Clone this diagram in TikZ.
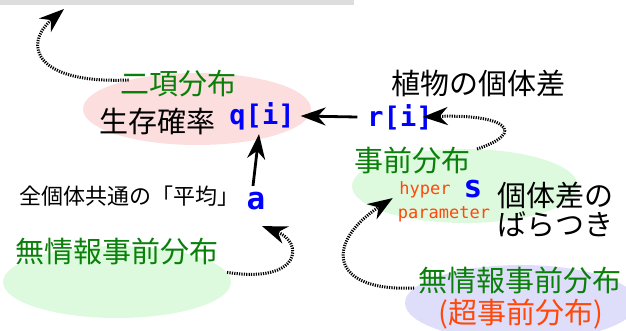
\documentclass[tikz,border=0pt]{standalone}
\usepackage{fontspec}
\newfontfamily\jp{Noto Sans CJK JP}
\newfontfamily\mono{DejaVu Sans Mono}
\usetikzlibrary{shapes.geometric,arrows.meta}
\definecolor{jgreen}{RGB}{10,128,10}
\definecolor{jorange}{RGB}{255,72,10}
\definecolor{jblue}{RGB}{0,0,255}
\definecolor{epink}{RGB}{252,222,222}
\definecolor{egreen}{RGB}{222,250,222}
\definecolor{elav}{RGB}{222,222,250}
\definecolor{bargray}{RGB}{221,221,221}
\tikzset{
  ell/.style={ellipse, inner sep=0pt},
  big/.style={inner sep=0pt, font=\jp\fontsize{29}{31}\selectfont},
  mid/.style={inner sep=0pt, font=\jp\fontsize{22}{24}\selectfont},
  var/.style={inner sep=0pt, text=jblue, font=\mono\bfseries\fontsize{27}{29}\selectfont},
  varb/.style={inner sep=0pt, text=jblue, font=\mono\bfseries\fontsize{31}{33}\selectfont},
  hyp/.style={inner sep=0pt, text=jorange, font=\mono\fontsize{17}{19}\selectfont},
  arr/.style={line width=2.8pt, -{Stealth[length=25pt,width=18pt,inset=8pt]}},
  darr/.style={line width=3pt, dash pattern=on 1.2pt off 1.2pt, -{Stealth[length=25pt,width=18pt,inset=8pt]}}
}
\begin{document}
\begin{tikzpicture}[x=1pt,y=-1pt]
\useasboundingbox (0,0) rectangle (626,331);
\fill[bargray] (0,0) rectangle (354,5);
% ellipses
\node[ell, fill=epink, minimum width=228pt, minimum height=72pt] (pink) at (197,109) {};
\node[ell, fill=egreen, minimum width=226pt, minimum height=74pt] (gr) at (465,186) {};
\node[ell, fill=egreen, minimum width=228pt, minimum height=72pt] (gl) at (117,282) {};
\node[ell, fill=elav, minimum width=232pt, minimum height=76pt] (lav) at (521,303) {};
% texts
\node[big, text=jgreen] (binom) at (178,84) {二項分布};
\node[big] (surv) at (157,122) {生存確率};
\node[var] (q) at (262,116) {q[i]};
\node[big] (ind) at (478,83) {植物の個体差};
\node[var] (r) at (400,117) {r[i]};
\node[big, text=jgreen] (prior) at (412,160) {事前分布};
\node[hyp] (hyper) at (425,190) {hyper};
\node[hyp] (param) at (444,214) {parameter};
\node[varb] (s) at (473,189) {s};
\node[big] (var1) at (555,195) {個体差の};
\node[big] (var2) at (555,225) {ばらつき};
\node[big, text=jgreen] (nonr) at (520,280) {無情報事前分布};
\node[big, text=jorange] (hyperprior) at (521,314) {(超事前分布)};
\node[mid] (mean) at (129,196) {全個体共通の「平均」};
\node[varb] (a) at (256,201) {a};
\node[big, text=jgreen] (nonl) at (117,251) {無情報事前分布};
\coordinate (top) at (64,9);
% connectors
\draw[arr] ([xshift=-10pt]r.west) -- ([xshift=6pt]q.east);
\draw[arr] ([xshift=-3pt,yshift=6pt]a.north) -- ([xshift=-3pt,yshift=-4pt]q.south);
\draw[darr] (pink.157) .. controls (35,84) and (22,45) .. (top);
\draw[darr] (gr.72) .. controls (528,132) and (505,114) .. ([xshift=-10pt]r.east);
\draw[darr] (lav.172) .. controls (328,292) and (325,242) .. ([xshift=-5pt,yshift=8pt]param.north west);
\draw[darr] (gl.5) .. controls (302,284) and (304,242) .. ([xshift=6pt,yshift=-16pt]a.south);
\end{tikzpicture}
\end{document}
